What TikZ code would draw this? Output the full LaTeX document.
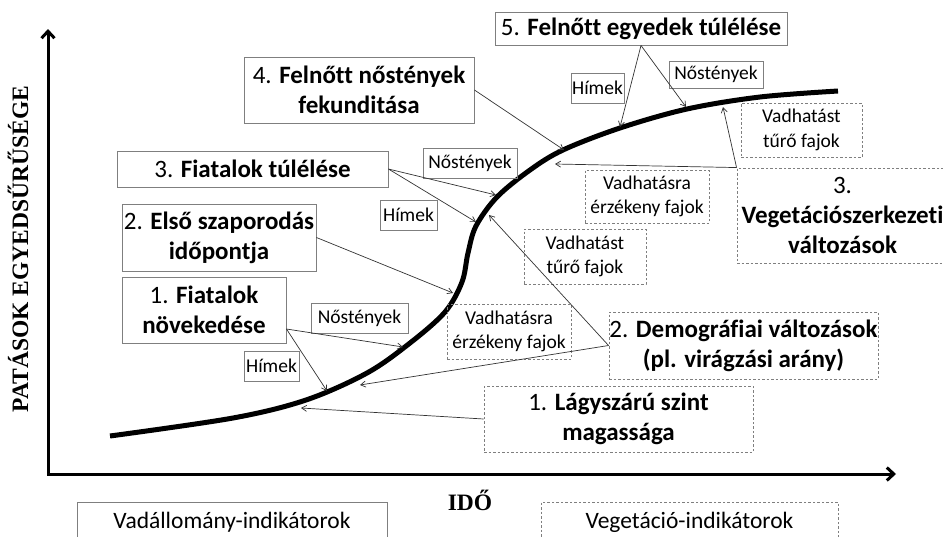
\documentclass[tikz,border=0pt]{standalone}
\usepackage{fontspec}
\setmainfont{Carlito}[Ligatures=NoCommon]
\newfontfamily\tnr{Liberation Serif}
\usetikzlibrary{arrows.meta}
\definecolor{boxgray}{HTML}{7F7F7F}
\definecolor{lncol}{HTML}{333333}
\begin{document}
\begin{tikzpicture}[x=1pt,y=-1pt,
  title/.style={draw=boxgray, line width=0.9pt, inner sep=0pt, align=center,
    font=\fontsize{25}{30}\selectfont},
  small/.style={draw=boxgray, line width=0.9pt, inner sep=0pt, align=center,
    font=\fontsize{19.5}{24.5}\selectfont},
  dbox/.style={dashed, dash pattern=on 2.5pt off 2pt},
  conn/.style={draw=lncol, line width=0.7pt, -{Straight Barb[length=5pt,width=6pt]}},
  axis/.style={line width=3pt, {Straight Barb[length=7pt,width=13pt]}-{Straight Barb[length=7pt,width=13pt]}},
  curve/.style={line width=5pt}]
\fill[white] (0,0) rectangle (943,536);
\useasboundingbox (0,0) rectangle (943,536);

% axes
\coordinate (ytip) at (48,29);
\coordinate (orig) at (48,474);
\coordinate (xtip) at (896,474);
\draw[axis] (ytip) -- (orig) -- (xtip);
\node[rotate=90, font=\tnr\bfseries\fontsize{23.5}{28}\selectfont] (ylab) at (18,249) {PATÁSOK EGYEDSŰRŰSÉGE};
\node[font=\tnr\bfseries\fontsize{23.5}{28}\selectfont] (xlab) at (470,500) {IDŐ};

% curve
\draw[curve] plot[smooth, tension=0.55] coordinates {(110,436) (233,418) (306,400) (367,373) (410,343) (445,312) (462,282) (468,253) (476,226) (497,197) (530,170) (563,150) (620,128) (687,109) (760,97) (838,91)};

% targets on the curve
\coordinate (p5h) at (620,127);
\coordinate (p5n) at (686,107);
\coordinate (p4) at (564,150);
\coordinate (p3n) at (496,195);
\coordinate (p3h) at (476,222);
\coordinate (p2) at (453,293);
\coordinate (p1n) at (403,347);
\coordinate (p1h) at (327,391);
\coordinate (pd1) at (489,215);
\coordinate (pd2) at (360,385);
\coordinate (pl) at (301,408);
\coordinate (pv1) at (723,107);
\coordinate (pv2) at (555,164);

% game indicator boxes
\node[title, minimum width=292pt, minimum height=33pt] (b5) at (641,28.5) {5. \textbf{Felnőtt egyedek túlélése}};
\node[title, minimum width=230pt, minimum height=66pt] (b4) at (359,90) {4. \textbf{Felnőtt nőstények}\\\textbf{fekunditása}};
\node[title, minimum width=271pt, minimum height=36pt] (b3) at (252.5,169) {3. \textbf{Fiatalok túlélése}};
\node[title, minimum width=194pt, minimum height=67pt] (b2) at (219,237.5) {2. \textbf{Első szaporodás}\\\textbf{időpontja}};
\node[title, minimum width=164pt, minimum height=66pt] (b1) at (204,310) {1. \textbf{Fiatalok}\\\textbf{növekedése}};

\node[small, minimum width=94pt, minimum height=30pt] (nos3) at (470,163) {Nőstények};
\node[small, minimum width=57pt, minimum height=30pt] (him3) at (408.5,215) {Hímek};
\node[small, minimum width=97pt, minimum height=30pt] (nos1) at (359.5,318) {Nőstények};
\node[small, minimum width=55pt, minimum height=30pt] (him1) at (271.5,366) {Hímek};
\node[small, minimum width=53pt, minimum height=30pt] (him5) at (597.5,88) {Hímek};
\node[small, minimum width=94pt, minimum height=27pt] (nos5) at (716,74.5) {Nőstények};

% vegetation indicator boxes
\node[small, dbox, minimum width=121pt, minimum height=54pt] (vt1) at (801.5,130) {Vadhatást\\tűrő fajok};
\node[title, dbox, minimum width=211pt, minimum height=95pt] (veg3) at (842.5,215.5) {3.\\\textbf{Vegetációszerkezeti}\\\textbf{változások}};
\node[small, dbox, minimum width=124pt, minimum height=53pt] (ve1) at (647,196.5) {Vadhatásra\\érzékeny fajok};
\node[small, dbox, minimum width=122pt, minimum height=55pt] (vt2) at (585,256.5) {Vadhatást\\tűrő fajok};
\node[small, dbox, minimum width=124pt, minimum height=55pt] (ve2) at (509,331.5) {Vadhatásra\\érzékeny fajok};
\node[title, dbox, minimum width=269pt, minimum height=67pt] (dem) at (743.5,345.5) {2. \textbf{Demográfiai változások}\\\textbf{(pl. virágzási arány)}};
\node[title, dbox, minimum width=269pt, minimum height=66pt] (lag) at (618.5,419) {1. \textbf{Lágyszárú szint}\\\textbf{magassága}};

% legend boxes
\node[draw=boxgray, line width=0.9pt, inner sep=0pt, minimum width=310pt, minimum height=40pt, font=\fontsize{23.5}{28}\selectfont] (vadind) at (232,522) {Vadállomány-indikátorok};
\node[draw=boxgray, line width=0.9pt, dbox, inner sep=0pt, minimum width=297pt, minimum height=40pt, font=\fontsize{23.5}{28}\selectfont] (vegind) at (689.5,522) {Vegetáció-indikátorok};

% connectors
\draw[conn] (b5.south) -- (p5h);
\draw[conn] (b5.south) -- (p5n);
\draw[conn] (b4.east) -- (p4);
\draw[conn] (b3.east) -- (p3n);
\draw[conn] (b3.east) -- (p3h);
\draw[conn] (b2.east) -- (p2);
\draw[conn] ([yshift=-19pt]b1.east) -- (p1n);
\draw[conn] ([yshift=-19pt]b1.east) -- (p1h);
\draw[conn] (dem.west) -- (pd1);
\draw[conn] (dem.west) -- (pd2);
\draw[conn] (lag.west) -- (pl);
\draw[conn] (veg3.north west) -- (pv1);
\draw[conn] (veg3.north west) -- (pv2);
\end{tikzpicture}
\end{document}
